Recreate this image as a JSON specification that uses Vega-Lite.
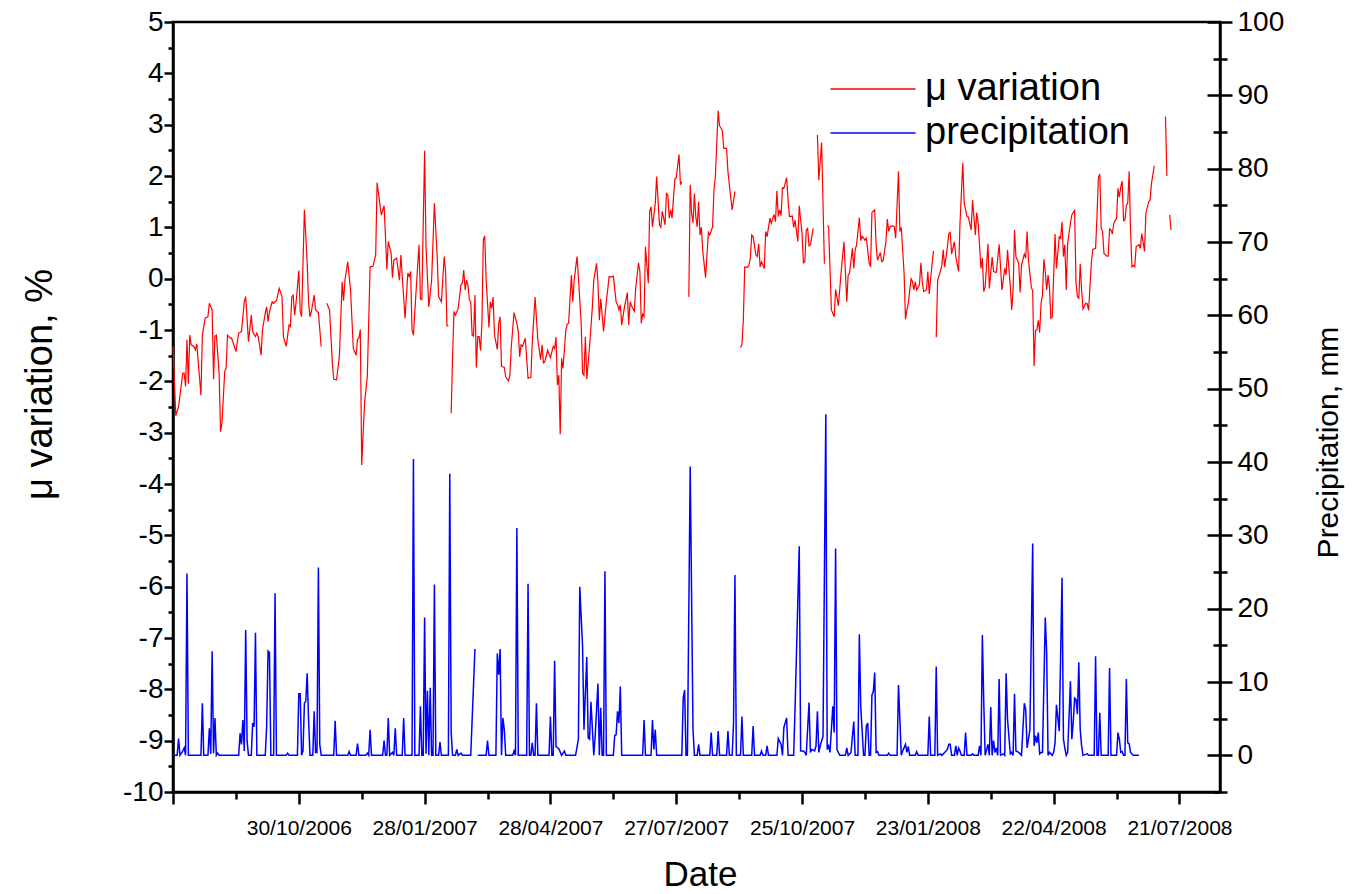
{
"$schema": "https://vega.github.io/schema/vega-lite/v6.json",
"width": 1047, "height": 770,
"autosize": "none",
"padding": {"left": 173, "top": 22, "right": 133, "bottom": 102},
"background": "white",
"config": {"view": {"stroke": "black", "strokeWidth": 2.5}, "font": "Liberation Sans",
 "axis": {"grid": false, "domainColor": "black", "domainWidth": 2.5, "tickColor": "black", "tickWidth": 2.5, "labelColor": "black", "titleColor": "black", "labelFont": "Liberation Sans", "titleFont": "Liberation Sans", "titleFontWeight": "normal"}},
"datasets": {
"mu": [
{"date":"2006-08-01","mu":-1.32},{"date":"2006-08-03","mu":-2.67},{"date":"2006-08-05","mu":-2.49},{"date":"2006-08-08","mu":-1.84},{"date":"2006-08-09","mu":-1.84},{"date":"2006-08-10","mu":-2.10},{"date":"2006-08-11","mu":-1.19},{"date":"2006-08-12","mu":-2.04},{"date":"2006-08-13","mu":-1.10},{"date":"2006-08-14","mu":-1.29},{"date":"2006-08-16","mu":-1.32},{"date":"2006-08-17","mu":-1.39},{"date":"2006-08-18","mu":-1.27},{"date":"2006-08-21","mu":-2.27},{"date":"2006-08-22","mu":-1.10},{"date":"2006-08-24","mu":-0.77},{"date":"2006-08-26","mu":-0.74},{"date":"2006-08-27","mu":-0.48},{"date":"2006-08-29","mu":-0.61},{"date":"2006-08-30","mu":-1.96},{"date":"2006-08-31","mu":-1.12},
{"date":"2006-09-01","mu":-1.10},{"date":"2006-09-03","mu":-1.84},{"date":"2006-09-04","mu":-2.98},{"date":"2006-09-05","mu":-2.82},{"date":"2006-09-07","mu":-1.81},{"date":"2006-09-08","mu":-1.75},{"date":"2006-09-09","mu":-1.10},{"date":"2006-09-11","mu":-1.16},{"date":"2006-09-12","mu":-1.16},{"date":"2006-09-15","mu":-1.42},{"date":"2006-09-17","mu":-1.06},{"date":"2006-09-19","mu":-1.03},{"date":"2006-09-21","mu":-0.45},{"date":"2006-09-22","mu":-0.35},{"date":"2006-09-24","mu":-1.23},{"date":"2006-09-26","mu":-0.71},{"date":"2006-09-27","mu":-1.03},{"date":"2006-09-29","mu":-1.13},{"date":"2006-09-30","mu":-1.06},
{"date":"2006-10-01","mu":-1.13},{"date":"2006-10-03","mu":-1.49},{"date":"2006-10-04","mu":-1.00},{"date":"2006-10-06","mu":-0.67},{"date":"2006-10-07","mu":-0.55},{"date":"2006-10-08","mu":-0.84},{"date":"2006-10-09","mu":-0.64},{"date":"2006-10-11","mu":-0.45},{"date":"2006-10-12","mu":-0.48},{"date":"2006-10-13","mu":-0.45},{"date":"2006-10-14","mu":-0.43},{"date":"2006-10-16","mu":-0.19},{"date":"2006-10-18","mu":-0.35},{"date":"2006-10-19","mu":-1.13},{"date":"2006-10-21","mu":-1.32},{"date":"2006-10-23","mu":-0.90},{"date":"2006-10-24","mu":-0.93},{"date":"2006-10-25","mu":-0.35},{"date":"2006-10-26","mu":-0.32},{"date":"2006-10-27","mu":-0.71},{"date":"2006-10-28","mu":-0.48},{"date":"2006-10-30","mu":0.16},{"date":"2006-10-31","mu":-0.64},
{"date":"2006-11-01","mu":-0.74},{"date":"2006-11-03","mu":1.34},{"date":"2006-11-05","mu":0.30},{"date":"2006-11-06","mu":-0.48},{"date":"2006-11-07","mu":-0.74},{"date":"2006-11-08","mu":-0.64},{"date":"2006-11-10","mu":-0.32},{"date":"2006-11-11","mu":-0.61},{"date":"2006-11-13","mu":-0.66},{"date":"2006-11-15","mu":-1.32},{"date":"2006-11-17","mu":null},{"date":"2006-11-19","mu":-0.48},{"date":"2006-11-21","mu":-0.61},{"date":"2006-11-23","mu":-1.65},{"date":"2006-11-24","mu":-1.96},{"date":"2006-11-26","mu":-1.97},{"date":"2006-11-28","mu":-1.52},{"date":"2006-11-30","mu":-0.06},
{"date":"2006-12-01","mu":-0.43},{"date":"2006-12-02","mu":-0.03},{"date":"2006-12-04","mu":0.33},{"date":"2006-12-06","mu":-0.22},{"date":"2006-12-08","mu":-1.36},{"date":"2006-12-10","mu":-1.49},{"date":"2006-12-11","mu":-1.18},{"date":"2006-12-12","mu":-1.16},{"date":"2006-12-13","mu":-0.99},{"date":"2006-12-14","mu":-3.63},{"date":"2006-12-16","mu":-2.43},{"date":"2006-12-18","mu":-1.91},{"date":"2006-12-20","mu":0.23},{"date":"2006-12-22","mu":0.24},{"date":"2006-12-24","mu":0.46},{"date":"2006-12-25","mu":1.87},{"date":"2006-12-28","mu":1.24},{"date":"2006-12-30","mu":1.42},{"date":"2006-12-31","mu":0.82},
{"date":"2007-01-01","mu":0.18},{"date":"2007-01-02","mu":0.72},{"date":"2007-01-04","mu":0.51},{"date":"2007-01-05","mu":0.02},{"date":"2007-01-06","mu":0.36},{"date":"2007-01-08","mu":0.40},{"date":"2007-01-10","mu":-0.03},{"date":"2007-01-11","mu":0.46},{"date":"2007-01-14","mu":-0.77},{"date":"2007-01-16","mu":0.11},{"date":"2007-01-17","mu":0.04},{"date":"2007-01-18","mu":0.14},{"date":"2007-01-19","mu":-1.00},{"date":"2007-01-20","mu":-1.10},{"date":"2007-01-22","mu":-0.19},{"date":"2007-01-24","mu":0.66},{"date":"2007-01-25","mu":-0.40},{"date":"2007-01-26","mu":-0.41},{"date":"2007-01-28","mu":2.49},{"date":"2007-01-29","mu":0.62},{"date":"2007-01-31","mu":-0.55},
{"date":"2007-02-02","mu":-0.03},{"date":"2007-02-04","mu":1.47},{"date":"2007-02-06","mu":0.43},{"date":"2007-02-07","mu":-0.35},{"date":"2007-02-09","mu":-0.45},{"date":"2007-02-11","mu":0.43},{"date":"2007-02-12","mu":0.14},{"date":"2007-02-13","mu":-0.92},{"date":"2007-02-14","mu":-0.92},{"date":"2007-02-15","mu":null},{"date":"2007-02-16","mu":-2.62},{"date":"2007-02-17","mu":-1.52},{"date":"2007-02-18","mu":-0.64},{"date":"2007-02-19","mu":-0.71},{"date":"2007-02-21","mu":-0.58},{"date":"2007-02-23","mu":-0.12},{"date":"2007-02-24","mu":-0.09},{"date":"2007-02-25","mu":0.17},{"date":"2007-02-26","mu":-0.22},{"date":"2007-02-27","mu":-0.03},{"date":"2007-02-28","mu":-0.12},
{"date":"2007-03-01","mu":-0.41},{"date":"2007-03-02","mu":-0.45},{"date":"2007-03-03","mu":-1.10},{"date":"2007-03-04","mu":-1.12},{"date":"2007-03-05","mu":-0.32},{"date":"2007-03-06","mu":-1.73},{"date":"2007-03-07","mu":-1.13},{"date":"2007-03-08","mu":-1.13},{"date":"2007-03-09","mu":-1.40},{"date":"2007-03-10","mu":-0.87},{"date":"2007-03-11","mu":0.75},{"date":"2007-03-12","mu":0.83},{"date":"2007-03-13","mu":0.00},{"date":"2007-03-15","mu":-0.95},{"date":"2007-03-16","mu":-0.45},{"date":"2007-03-17","mu":-0.58},{"date":"2007-03-18","mu":-0.36},{"date":"2007-03-19","mu":-1.10},{"date":"2007-03-21","mu":-1.38},{"date":"2007-03-22","mu":-0.87},{"date":"2007-03-23","mu":-0.74},{"date":"2007-03-24","mu":-1.71},{"date":"2007-03-26","mu":-1.73},{"date":"2007-03-27","mu":-1.91},{"date":"2007-03-29","mu":-1.99},{"date":"2007-03-30","mu":-1.88},{"date":"2007-03-31","mu":-1.32},
{"date":"2007-04-02","mu":-0.66},{"date":"2007-04-04","mu":-0.87},{"date":"2007-04-05","mu":-1.03},{"date":"2007-04-06","mu":-1.52},{"date":"2007-04-07","mu":-1.29},{"date":"2007-04-08","mu":-1.32},{"date":"2007-04-10","mu":-1.16},{"date":"2007-04-12","mu":-1.94},{"date":"2007-04-14","mu":-1.92},{"date":"2007-04-15","mu":-1.26},{"date":"2007-04-17","mu":-0.36},{"date":"2007-04-19","mu":-1.19},{"date":"2007-04-21","mu":-1.58},{"date":"2007-04-22","mu":-1.29},{"date":"2007-04-23","mu":-1.64},{"date":"2007-04-24","mu":-1.62},{"date":"2007-04-26","mu":-1.39},{"date":"2007-04-28","mu":-1.54},{"date":"2007-04-30","mu":-1.32},
{"date":"2007-05-01","mu":-1.36},{"date":"2007-05-02","mu":-1.14},{"date":"2007-05-03","mu":-2.07},{"date":"2007-05-04","mu":-1.88},{"date":"2007-05-05","mu":-3.03},{"date":"2007-05-06","mu":-1.55},{"date":"2007-05-07","mu":-1.75},{"date":"2007-05-09","mu":-1.01},{"date":"2007-05-10","mu":-0.88},{"date":"2007-05-11","mu":-0.87},{"date":"2007-05-13","mu":0.07},{"date":"2007-05-14","mu":-0.45},{"date":"2007-05-15","mu":-0.03},{"date":"2007-05-17","mu":0.43},{"date":"2007-05-18","mu":0.04},{"date":"2007-05-20","mu":-0.87},{"date":"2007-05-21","mu":-1.84},{"date":"2007-05-22","mu":-1.88},{"date":"2007-05-23","mu":-1.13},{"date":"2007-05-24","mu":-1.96},{"date":"2007-05-26","mu":-1.32},{"date":"2007-05-28","mu":-0.55},{"date":"2007-05-29","mu":-0.03},{"date":"2007-05-31","mu":0.30},
{"date":"2007-06-01","mu":-0.09},{"date":"2007-06-02","mu":-0.81},{"date":"2007-06-03","mu":-0.39},{"date":"2007-06-05","mu":-1.03},{"date":"2007-06-07","mu":-0.45},{"date":"2007-06-09","mu":0.04},{"date":"2007-06-10","mu":0.03},{"date":"2007-06-12","mu":0.05},{"date":"2007-06-14","mu":-0.45},{"date":"2007-06-15","mu":-0.51},{"date":"2007-06-16","mu":-0.61},{"date":"2007-06-17","mu":-0.51},{"date":"2007-06-18","mu":-0.90},{"date":"2007-06-20","mu":-0.55},{"date":"2007-06-22","mu":-0.27},{"date":"2007-06-23","mu":-0.90},{"date":"2007-06-24","mu":-0.45},{"date":"2007-06-25","mu":-0.53},{"date":"2007-06-27","mu":-0.64},{"date":"2007-06-28","mu":-0.19},{"date":"2007-06-30","mu":0.31},
{"date":"2007-07-01","mu":0.14},{"date":"2007-07-02","mu":-0.87},{"date":"2007-07-03","mu":-0.69},{"date":"2007-07-04","mu":-0.74},{"date":"2007-07-05","mu":0.62},{"date":"2007-07-07","mu":-0.09},{"date":"2007-07-08","mu":1.31},{"date":"2007-07-09","mu":1.40},{"date":"2007-07-10","mu":1.01},{"date":"2007-07-12","mu":1.47},{"date":"2007-07-13","mu":1.99},{"date":"2007-07-15","mu":1.05},{"date":"2007-07-16","mu":1.00},{"date":"2007-07-17","mu":1.31},{"date":"2007-07-19","mu":1.05},{"date":"2007-07-20","mu":1.66},{"date":"2007-07-21","mu":1.63},{"date":"2007-07-22","mu":1.18},{"date":"2007-07-23","mu":1.34},{"date":"2007-07-24","mu":1.18},{"date":"2007-07-26","mu":1.94},{"date":"2007-07-27","mu":1.96},{"date":"2007-07-29","mu":2.42},{"date":"2007-07-30","mu":1.83},{"date":"2007-07-31","mu":1.89},
{"date":"2007-08-02","mu":null},{"date":"2007-08-05","mu":-0.35},{"date":"2007-08-06","mu":1.83},{"date":"2007-08-07","mu":1.27},{"date":"2007-08-08","mu":1.09},{"date":"2007-08-09","mu":1.66},{"date":"2007-08-10","mu":1.21},{"date":"2007-08-11","mu":1.01},{"date":"2007-08-12","mu":1.50},{"date":"2007-08-13","mu":0.85},{"date":"2007-08-14","mu":1.00},{"date":"2007-08-15","mu":0.53},{"date":"2007-08-17","mu":0.02},{"date":"2007-08-19","mu":0.90},{"date":"2007-08-20","mu":0.85},{"date":"2007-08-22","mu":1.01},{"date":"2007-08-23","mu":1.73},{"date":"2007-08-24","mu":1.99},{"date":"2007-08-26","mu":3.27},{"date":"2007-08-27","mu":2.98},{"date":"2007-08-29","mu":2.88},{"date":"2007-08-30","mu":2.54},
{"date":"2007-09-01","mu":2.54},{"date":"2007-09-02","mu":2.09},{"date":"2007-09-03","mu":1.83},{"date":"2007-09-05","mu":1.34},{"date":"2007-09-07","mu":1.70},{"date":"2007-09-09","mu":null},{"date":"2007-09-11","mu":-1.34},{"date":"2007-09-12","mu":-1.29},{"date":"2007-09-13","mu":-0.81},{"date":"2007-09-14","mu":0.23},{"date":"2007-09-16","mu":0.22},{"date":"2007-09-17","mu":0.26},{"date":"2007-09-18","mu":0.40},{"date":"2007-09-19","mu":0.85},{"date":"2007-09-20","mu":0.82},{"date":"2007-09-22","mu":0.46},{"date":"2007-09-23","mu":0.43},{"date":"2007-09-24","mu":0.68},{"date":"2007-09-25","mu":0.23},{"date":"2007-09-26","mu":0.33},{"date":"2007-09-28","mu":0.20},{"date":"2007-09-29","mu":0.92},{"date":"2007-09-30","mu":0.82},
{"date":"2007-10-02","mu":1.18},{"date":"2007-10-03","mu":1.08},{"date":"2007-10-05","mu":1.25},{"date":"2007-10-06","mu":1.11},{"date":"2007-10-07","mu":1.71},{"date":"2007-10-08","mu":1.21},{"date":"2007-10-09","mu":1.34},{"date":"2007-10-10","mu":1.23},{"date":"2007-10-11","mu":1.77},{"date":"2007-10-12","mu":1.76},{"date":"2007-10-14","mu":1.97},{"date":"2007-10-15","mu":1.53},{"date":"2007-10-16","mu":1.21},{"date":"2007-10-18","mu":1.22},{"date":"2007-10-19","mu":1.00},{"date":"2007-10-20","mu":1.14},{"date":"2007-10-22","mu":0.72},{"date":"2007-10-23","mu":1.42},{"date":"2007-10-25","mu":0.88},{"date":"2007-10-26","mu":0.31},{"date":"2007-10-27","mu":0.33},{"date":"2007-10-28","mu":0.95},{"date":"2007-10-29","mu":0.98},{"date":"2007-10-30","mu":0.64},{"date":"2007-10-31","mu":0.66},
{"date":"2007-11-02","mu":0.98},{"date":"2007-11-03","mu":null},{"date":"2007-11-05","mu":2.80},{"date":"2007-11-06","mu":1.92},{"date":"2007-11-08","mu":2.65},{"date":"2007-11-10","mu":0.29},{"date":"2007-11-11","mu":null},{"date":"2007-11-12","mu":1.03},{"date":"2007-11-13","mu":1.01},{"date":"2007-11-15","mu":-0.61},{"date":"2007-11-17","mu":-0.74},{"date":"2007-11-18","mu":-0.21},{"date":"2007-11-20","mu":-0.53},{"date":"2007-11-22","mu":0.14},{"date":"2007-11-24","mu":0.72},{"date":"2007-11-26","mu":-0.45},{"date":"2007-11-27","mu":0.07},{"date":"2007-11-28","mu":0.11},{"date":"2007-11-30","mu":0.59},
{"date":"2007-12-01","mu":0.20},{"date":"2007-12-02","mu":0.56},{"date":"2007-12-03","mu":0.66},{"date":"2007-12-05","mu":1.19},{"date":"2007-12-06","mu":0.74},{"date":"2007-12-07","mu":0.83},{"date":"2007-12-09","mu":0.75},{"date":"2007-12-10","mu":0.79},{"date":"2007-12-12","mu":0.31},{"date":"2007-12-13","mu":0.23},{"date":"2007-12-14","mu":1.29},{"date":"2007-12-16","mu":1.34},{"date":"2007-12-17","mu":0.66},{"date":"2007-12-18","mu":0.36},{"date":"2007-12-20","mu":0.51},{"date":"2007-12-21","mu":0.33},{"date":"2007-12-22","mu":0.35},{"date":"2007-12-24","mu":0.72},{"date":"2007-12-25","mu":1.16},{"date":"2007-12-26","mu":0.92},{"date":"2007-12-27","mu":1.01},{"date":"2007-12-29","mu":1.03},{"date":"2007-12-30","mu":1.01},{"date":"2007-12-31","mu":0.79},
{"date":"2008-01-01","mu":1.44},{"date":"2008-01-02","mu":2.09},{"date":"2008-01-03","mu":0.92},{"date":"2008-01-04","mu":1.00},{"date":"2008-01-06","mu":0.11},{"date":"2008-01-07","mu":-0.79},{"date":"2008-01-08","mu":-0.61},{"date":"2008-01-09","mu":-0.48},{"date":"2008-01-11","mu":0.00},{"date":"2008-01-12","mu":-0.06},{"date":"2008-01-13","mu":-0.22},{"date":"2008-01-14","mu":-0.06},{"date":"2008-01-15","mu":-0.22},{"date":"2008-01-17","mu":-0.12},{"date":"2008-01-18","mu":0.31},{"date":"2008-01-19","mu":-0.06},{"date":"2008-01-20","mu":-0.25},{"date":"2008-01-22","mu":-0.22},{"date":"2008-01-23","mu":0.14},{"date":"2008-01-24","mu":-0.30},{"date":"2008-01-25","mu":0.00},{"date":"2008-01-27","mu":0.54},{"date":"2008-01-28","mu":null},{"date":"2008-01-29","mu":-1.14},{"date":"2008-01-30","mu":-0.03},
{"date":"2008-02-01","mu":0.15},{"date":"2008-02-02","mu":0.26},{"date":"2008-02-03","mu":0.56},{"date":"2008-02-04","mu":0.23},{"date":"2008-02-06","mu":0.62},{"date":"2008-02-07","mu":0.88},{"date":"2008-02-08","mu":0.90},{"date":"2008-02-09","mu":0.48},{"date":"2008-02-11","mu":0.72},{"date":"2008-02-12","mu":0.43},{"date":"2008-02-14","mu":0.14},{"date":"2008-02-15","mu":1.08},{"date":"2008-02-17","mu":2.26},{"date":"2008-02-18","mu":1.47},{"date":"2008-02-20","mu":1.21},{"date":"2008-02-21","mu":1.20},{"date":"2008-02-23","mu":0.95},{"date":"2008-02-24","mu":1.53},{"date":"2008-02-26","mu":0.85},{"date":"2008-02-27","mu":1.29},{"date":"2008-02-28","mu":1.08},
{"date":"2008-03-01","mu":0.20},{"date":"2008-03-02","mu":0.40},{"date":"2008-03-03","mu":-0.25},{"date":"2008-03-04","mu":-0.16},{"date":"2008-03-06","mu":0.68},{"date":"2008-03-07","mu":-0.19},{"date":"2008-03-09","mu":0.42},{"date":"2008-03-10","mu":0.14},{"date":"2008-03-12","mu":0.12},{"date":"2008-03-14","mu":0.67},{"date":"2008-03-16","mu":-0.22},{"date":"2008-03-18","mu":0.20},{"date":"2008-03-19","mu":0.07},{"date":"2008-03-20","mu":0.56},{"date":"2008-03-22","mu":-0.16},{"date":"2008-03-23","mu":-0.61},{"date":"2008-03-24","mu":-0.22},{"date":"2008-03-25","mu":0.95},{"date":"2008-03-26","mu":0.43},{"date":"2008-03-28","mu":0.30},{"date":"2008-03-29","mu":-0.27},{"date":"2008-03-30","mu":0.26},
{"date":"2008-04-01","mu":0.48},{"date":"2008-04-02","mu":0.40},{"date":"2008-04-03","mu":0.92},{"date":"2008-04-04","mu":0.36},{"date":"2008-04-06","mu":-0.16},{"date":"2008-04-07","mu":-0.24},{"date":"2008-04-08","mu":-1.70},{"date":"2008-04-09","mu":-1.01},{"date":"2008-04-10","mu":-1.00},{"date":"2008-04-11","mu":-0.81},{"date":"2008-04-12","mu":-1.05},{"date":"2008-04-13","mu":-0.48},{"date":"2008-04-14","mu":-0.32},{"date":"2008-04-15","mu":0.38},{"date":"2008-04-16","mu":0.14},{"date":"2008-04-17","mu":-0.22},{"date":"2008-04-18","mu":0.07},{"date":"2008-04-19","mu":-0.16},{"date":"2008-04-20","mu":-0.77},{"date":"2008-04-21","mu":-0.74},{"date":"2008-04-23","mu":0.87},{"date":"2008-04-24","mu":0.20},{"date":"2008-04-26","mu":0.82},{"date":"2008-04-27","mu":0.79},{"date":"2008-04-28","mu":1.11},{"date":"2008-04-29","mu":0.43},{"date":"2008-04-30","mu":0.66},
{"date":"2008-05-01","mu":-0.22},{"date":"2008-05-02","mu":0.69},{"date":"2008-05-04","mu":1.08},{"date":"2008-05-05","mu":1.24},{"date":"2008-05-07","mu":1.33},{"date":"2008-05-08","mu":-0.09},{"date":"2008-05-09","mu":-0.35},{"date":"2008-05-10","mu":-0.38},{"date":"2008-05-11","mu":0.29},{"date":"2008-05-12","mu":-0.22},{"date":"2008-05-13","mu":-0.59},{"date":"2008-05-15","mu":-0.48},{"date":"2008-05-16","mu":-0.49},{"date":"2008-05-17","mu":-0.62},{"date":"2008-05-19","mu":0.33},{"date":"2008-05-20","mu":0.57},{"date":"2008-05-22","mu":0.59},{"date":"2008-05-23","mu":1.21},{"date":"2008-05-24","mu":1.97},{"date":"2008-05-25","mu":2.04},{"date":"2008-05-26","mu":0.98},{"date":"2008-05-27","mu":0.92},{"date":"2008-05-28","mu":0.49},{"date":"2008-05-30","mu":0.44},{"date":"2008-05-31","mu":0.44},
{"date":"2008-06-01","mu":0.97},{"date":"2008-06-02","mu":0.95},{"date":"2008-06-03","mu":0.87},{"date":"2008-06-04","mu":1.08},{"date":"2008-06-06","mu":1.18},{"date":"2008-06-07","mu":1.76},{"date":"2008-06-08","mu":1.59},{"date":"2008-06-09","mu":1.79},{"date":"2008-06-10","mu":1.90},{"date":"2008-06-11","mu":1.13},{"date":"2008-06-12","mu":1.14},{"date":"2008-06-13","mu":1.43},{"date":"2008-06-14","mu":1.47},{"date":"2008-06-15","mu":2.09},{"date":"2008-06-16","mu":0.95},{"date":"2008-06-17","mu":0.23},{"date":"2008-06-18","mu":0.26},{"date":"2008-06-19","mu":0.23},{"date":"2008-06-20","mu":0.62},{"date":"2008-06-22","mu":0.66},{"date":"2008-06-23","mu":0.59},{"date":"2008-06-24","mu":0.88},{"date":"2008-06-26","mu":0.53},{"date":"2008-06-27","mu":1.28},{"date":"2008-06-29","mu":1.50},{"date":"2008-06-30","mu":1.53},
{"date":"2008-07-01","mu":1.86},{"date":"2008-07-03","mu":2.20},{"date":"2008-07-04","mu":null},{"date":"2008-07-11","mu":3.16},{"date":"2008-07-12","mu":2.00},{"date":"2008-07-13","mu":null},{"date":"2008-07-14","mu":1.24},{"date":"2008-07-15","mu":0.95}
],
"precip": [
{"date":"2006-08-01","p":0},{"date":"2006-08-04","p":0},{"date":"2006-08-05","p":2.3},{"date":"2006-08-06","p":0},{"date":"2006-08-08","p":0.6},{"date":"2006-08-09","p":1.0},{"date":"2006-08-10","p":0},{"date":"2006-08-11","p":24.8},{"date":"2006-08-12","p":0},{"date":"2006-08-21","p":0},{"date":"2006-08-22","p":7.1},{"date":"2006-08-23","p":0},{"date":"2006-08-26","p":0},{"date":"2006-08-27","p":3.7},{"date":"2006-08-28","p":0.2},{"date":"2006-08-29","p":14.2},{"date":"2006-08-30","p":0.3},{"date":"2006-08-31","p":5.1},
{"date":"2006-09-01","p":0},{"date":"2006-09-02","p":0.3},{"date":"2006-09-03","p":0},{"date":"2006-09-17","p":0},{"date":"2006-09-18","p":3.0},{"date":"2006-09-19","p":1.5},{"date":"2006-09-20","p":4.8},{"date":"2006-09-21","p":0.6},{"date":"2006-09-22","p":17.1},{"date":"2006-09-23","p":2.0},{"date":"2006-09-24","p":0},{"date":"2006-09-26","p":0},{"date":"2006-09-27","p":4.4},{"date":"2006-09-28","p":3.9},{"date":"2006-09-29","p":16.7},{"date":"2006-09-30","p":0},
{"date":"2006-10-06","p":0},{"date":"2006-10-07","p":4.0},{"date":"2006-10-08","p":14.2},{"date":"2006-10-09","p":14.0},{"date":"2006-10-10","p":0},{"date":"2006-10-12","p":0},{"date":"2006-10-13","p":22.1},{"date":"2006-10-14","p":0},{"date":"2006-10-21","p":0},{"date":"2006-10-22","p":0.3},{"date":"2006-10-23","p":0},{"date":"2006-10-29","p":0},{"date":"2006-10-30","p":8.4},{"date":"2006-10-31","p":8.4},
{"date":"2006-11-01","p":0},{"date":"2006-11-02","p":0.6},{"date":"2006-11-03","p":7.1},{"date":"2006-11-04","p":7.4},{"date":"2006-11-05","p":11.2},{"date":"2006-11-06","p":4.8},{"date":"2006-11-07","p":0},{"date":"2006-11-09","p":0},{"date":"2006-11-10","p":6.0},{"date":"2006-11-11","p":0.4},{"date":"2006-11-12","p":0.4},{"date":"2006-11-13","p":25.6},{"date":"2006-11-14","p":1.5},{"date":"2006-11-15","p":0},{"date":"2006-11-24","p":0},{"date":"2006-11-25","p":4.7},{"date":"2006-11-26","p":0},
{"date":"2006-12-04","p":0},{"date":"2006-12-05","p":0.5},{"date":"2006-12-06","p":0},{"date":"2006-12-10","p":0},{"date":"2006-12-11","p":1.6},{"date":"2006-12-12","p":0},{"date":"2006-12-17","p":0},{"date":"2006-12-18","p":0.3},{"date":"2006-12-19","p":0},{"date":"2006-12-20","p":3.5},{"date":"2006-12-21","p":0},{"date":"2006-12-29","p":0},{"date":"2006-12-30","p":2.0},{"date":"2006-12-31","p":0},
{"date":"2007-01-01","p":0},{"date":"2007-01-02","p":5.1},{"date":"2007-01-03","p":0},{"date":"2007-01-05","p":0.4},{"date":"2007-01-06","p":0},{"date":"2007-01-07","p":3.7},{"date":"2007-01-08","p":0},{"date":"2007-01-12","p":0},{"date":"2007-01-13","p":5.1},{"date":"2007-01-14","p":0},{"date":"2007-01-19","p":0},{"date":"2007-01-20","p":40.4},{"date":"2007-01-21","p":0},{"date":"2007-01-24","p":0},{"date":"2007-01-25","p":6.7},{"date":"2007-01-26","p":0},{"date":"2007-01-27","p":0},{"date":"2007-01-28","p":18.8},{"date":"2007-01-29","p":0.2},{"date":"2007-01-30","p":8.8},{"date":"2007-01-31","p":0},
{"date":"2007-02-01","p":9.2},{"date":"2007-02-02","p":0},{"date":"2007-02-03","p":0},{"date":"2007-02-04","p":23.3},{"date":"2007-02-05","p":0},{"date":"2007-02-07","p":0},{"date":"2007-02-08","p":1.8},{"date":"2007-02-09","p":0},{"date":"2007-02-14","p":0},{"date":"2007-02-15","p":38.4},{"date":"2007-02-16","p":3.2},{"date":"2007-02-17","p":0},{"date":"2007-02-19","p":0},{"date":"2007-02-20","p":0.8},{"date":"2007-02-21","p":0},{"date":"2007-02-23","p":0.3},{"date":"2007-02-24","p":0},
{"date":"2007-03-02","p":0},{"date":"2007-03-05","p":14.5},{"date":"2007-03-06","p":null},{"date":"2007-03-07","p":0},{"date":"2007-03-13","p":0},{"date":"2007-03-14","p":2.0},{"date":"2007-03-15","p":0},{"date":"2007-03-20","p":0},{"date":"2007-03-21","p":13.9},{"date":"2007-03-22","p":11.0},{"date":"2007-03-23","p":14.5},{"date":"2007-03-24","p":0},{"date":"2007-03-25","p":5.1},{"date":"2007-03-26","p":3.5},{"date":"2007-03-27","p":0},
{"date":"2007-04-01","p":0},{"date":"2007-04-02","p":0.6},{"date":"2007-04-03","p":0},{"date":"2007-04-04","p":31.0},{"date":"2007-04-05","p":0},{"date":"2007-04-11","p":0},{"date":"2007-04-12","p":23.4},{"date":"2007-04-13","p":0},{"date":"2007-04-14","p":0},{"date":"2007-04-15","p":1.7},{"date":"2007-04-16","p":0},{"date":"2007-04-17","p":0},{"date":"2007-04-18","p":7.1},{"date":"2007-04-19","p":0},{"date":"2007-04-27","p":0},{"date":"2007-04-28","p":5.3},{"date":"2007-04-29","p":0},{"date":"2007-04-30","p":0},
{"date":"2007-05-01","p":12.9},{"date":"2007-05-02","p":1.2},{"date":"2007-05-04","p":0.9},{"date":"2007-05-06","p":0},{"date":"2007-05-08","p":0.6},{"date":"2007-05-09","p":0},{"date":"2007-05-16","p":0},{"date":"2007-05-18","p":2.2},{"date":"2007-05-19","p":23.0},{"date":"2007-05-21","p":14.8},{"date":"2007-05-22","p":3.5},{"date":"2007-05-24","p":13.4},{"date":"2007-05-25","p":2.4},{"date":"2007-05-26","p":2.2},{"date":"2007-05-27","p":7.3},{"date":"2007-05-29","p":0},{"date":"2007-05-30","p":2.6},
{"date":"2007-06-01","p":9.8},{"date":"2007-06-02","p":0},{"date":"2007-06-03","p":6.5},{"date":"2007-06-04","p":0},{"date":"2007-06-05","p":0},{"date":"2007-06-06","p":25.1},{"date":"2007-06-07","p":0},{"date":"2007-06-12","p":0},{"date":"2007-06-13","p":2.7},{"date":"2007-06-14","p":2.8},{"date":"2007-06-15","p":6.0},{"date":"2007-06-16","p":4.4},{"date":"2007-06-17","p":9.4},{"date":"2007-06-18","p":0},
{"date":"2007-07-03","p":0},{"date":"2007-07-04","p":4.8},{"date":"2007-07-05","p":0},{"date":"2007-07-09","p":0},{"date":"2007-07-10","p":4.8},{"date":"2007-07-11","p":0.8},{"date":"2007-07-12","p":3.5},{"date":"2007-07-13","p":0},{"date":"2007-07-31","p":0},
{"date":"2007-08-01","p":7.8},{"date":"2007-08-02","p":8.9},{"date":"2007-08-03","p":0},{"date":"2007-08-04","p":0},{"date":"2007-08-06","p":39.4},{"date":"2007-08-08","p":3.5},{"date":"2007-08-09","p":0},{"date":"2007-08-11","p":0},{"date":"2007-08-12","p":1.5},{"date":"2007-08-13","p":0},{"date":"2007-08-20","p":0},{"date":"2007-08-21","p":3.1},{"date":"2007-08-22","p":0},{"date":"2007-08-25","p":0},{"date":"2007-08-26","p":3.3},{"date":"2007-08-27","p":0},
{"date":"2007-09-01","p":0},{"date":"2007-09-02","p":3.3},{"date":"2007-09-03","p":0},{"date":"2007-09-05","p":0},{"date":"2007-09-06","p":4.4},{"date":"2007-09-07","p":24.6},{"date":"2007-09-08","p":0},{"date":"2007-09-11","p":0},{"date":"2007-09-12","p":5.3},{"date":"2007-09-13","p":0},{"date":"2007-09-19","p":0},{"date":"2007-09-20","p":4.0},{"date":"2007-09-21","p":0},{"date":"2007-09-25","p":0},{"date":"2007-09-26","p":0.6},{"date":"2007-09-27","p":0},{"date":"2007-09-29","p":0},{"date":"2007-09-30","p":1.3},
{"date":"2007-10-01","p":0},{"date":"2007-10-07","p":0},{"date":"2007-10-08","p":2.3},{"date":"2007-10-10","p":1.5},{"date":"2007-10-11","p":0},{"date":"2007-10-12","p":3.8},{"date":"2007-10-14","p":5.1},{"date":"2007-10-15","p":0},{"date":"2007-10-19","p":0},{"date":"2007-10-20","p":6.3},{"date":"2007-10-23","p":28.5},{"date":"2007-10-24","p":0.6},{"date":"2007-10-26","p":0.6},{"date":"2007-10-27","p":0.4},{"date":"2007-10-28","p":0},{"date":"2007-10-30","p":7.2},{"date":"2007-10-31","p":0.4},
{"date":"2007-11-01","p":0.8},{"date":"2007-11-02","p":0.7},{"date":"2007-11-03","p":0.6},{"date":"2007-11-04","p":1.3},{"date":"2007-11-05","p":6.0},{"date":"2007-11-06","p":0.4},{"date":"2007-11-07","p":1.3},{"date":"2007-11-09","p":2.6},{"date":"2007-11-11","p":46.5},{"date":"2007-11-12","p":0.8},{"date":"2007-11-13","p":1.3},{"date":"2007-11-14","p":0.4},{"date":"2007-11-16","p":6.7},{"date":"2007-11-17","p":3.1},{"date":"2007-11-18","p":28.2},{"date":"2007-11-19","p":0.8},{"date":"2007-11-21","p":0},{"date":"2007-11-25","p":0},{"date":"2007-11-26","p":1.0},{"date":"2007-11-27","p":0},{"date":"2007-11-29","p":0.4},
{"date":"2007-12-01","p":4.6},{"date":"2007-12-02","p":0},{"date":"2007-12-04","p":0},{"date":"2007-12-05","p":16.5},{"date":"2007-12-06","p":6.7},{"date":"2007-12-08","p":0},{"date":"2007-12-09","p":0},{"date":"2007-12-10","p":4.0},{"date":"2007-12-11","p":4.4},{"date":"2007-12-12","p":0},{"date":"2007-12-13","p":0},{"date":"2007-12-14","p":8.2},{"date":"2007-12-15","p":8.7},{"date":"2007-12-16","p":11.3},{"date":"2007-12-17","p":0.4},{"date":"2007-12-18","p":0.5},{"date":"2007-12-19","p":0},{"date":"2007-12-25","p":0},{"date":"2007-12-26","p":0.3},{"date":"2007-12-27","p":0},
{"date":"2008-01-01","p":0},{"date":"2008-01-02","p":9.6},{"date":"2008-01-04","p":0},{"date":"2008-01-05","p":0.6},{"date":"2008-01-07","p":1.5},{"date":"2008-01-08","p":0.4},{"date":"2008-01-09","p":1.2},{"date":"2008-01-10","p":0},{"date":"2008-01-14","p":0},{"date":"2008-01-15","p":0.5},{"date":"2008-01-16","p":0},{"date":"2008-01-23","p":0},{"date":"2008-01-24","p":5.3},{"date":"2008-01-25","p":0},{"date":"2008-01-28","p":0},{"date":"2008-01-29","p":12.1},{"date":"2008-01-30","p":0},
{"date":"2008-02-01","p":0.2},{"date":"2008-02-02","p":0},{"date":"2008-02-04","p":0.4},{"date":"2008-02-06","p":0.8},{"date":"2008-02-07","p":1.5},{"date":"2008-02-08","p":1.5},{"date":"2008-02-09","p":0},{"date":"2008-02-11","p":0},{"date":"2008-02-12","p":1.3},{"date":"2008-02-13","p":0},{"date":"2008-02-14","p":1.0},{"date":"2008-02-15","p":0.6},{"date":"2008-02-16","p":0},{"date":"2008-02-18","p":0},{"date":"2008-02-19","p":3.1},{"date":"2008-02-20","p":0},{"date":"2008-02-23","p":0},{"date":"2008-02-24","p":0.2},{"date":"2008-02-25","p":0},{"date":"2008-02-28","p":0},{"date":"2008-02-29","p":1.3},
{"date":"2008-03-01","p":0},{"date":"2008-03-02","p":16.4},{"date":"2008-03-03","p":7.2},{"date":"2008-03-04","p":0},{"date":"2008-03-06","p":1.5},{"date":"2008-03-07","p":0},{"date":"2008-03-08","p":6.6},{"date":"2008-03-09","p":0},{"date":"2008-03-10","p":2.0},{"date":"2008-03-11","p":0.4},{"date":"2008-03-12","p":1.0},{"date":"2008-03-13","p":0},{"date":"2008-03-14","p":10.4},{"date":"2008-03-15","p":0},{"date":"2008-03-17","p":0.2},{"date":"2008-03-18","p":0},{"date":"2008-03-19","p":11.2},{"date":"2008-03-20","p":4.9},{"date":"2008-03-22","p":0.2},{"date":"2008-03-23","p":0.4},{"date":"2008-03-24","p":0},{"date":"2008-03-25","p":8.4},{"date":"2008-03-26","p":0.6},{"date":"2008-03-28","p":0.4},{"date":"2008-03-29","p":0.2},{"date":"2008-03-30","p":0},
{"date":"2008-04-01","p":7.1},{"date":"2008-04-02","p":6.3},{"date":"2008-04-03","p":1.0},{"date":"2008-04-04","p":2.2},{"date":"2008-04-05","p":3.5},{"date":"2008-04-07","p":28.9},{"date":"2008-04-08","p":1.3},{"date":"2008-04-09","p":2.7},{"date":"2008-04-10","p":1.7},{"date":"2008-04-11","p":3.1},{"date":"2008-04-12","p":0.2},{"date":"2008-04-13","p":0.4},{"date":"2008-04-14","p":0.4},{"date":"2008-04-16","p":18.8},{"date":"2008-04-17","p":14.0},{"date":"2008-04-18","p":0},{"date":"2008-04-19","p":0.4},{"date":"2008-04-21","p":0},{"date":"2008-04-22","p":0.4},{"date":"2008-04-23","p":1.7},{"date":"2008-04-24","p":6.9},{"date":"2008-04-26","p":3.3},{"date":"2008-04-28","p":24.2},{"date":"2008-04-29","p":2.2},{"date":"2008-04-30","p":1.0},
{"date":"2008-05-01","p":0},{"date":"2008-05-02","p":0.4},{"date":"2008-05-04","p":10.1},{"date":"2008-05-05","p":2.2},{"date":"2008-05-06","p":4.5},{"date":"2008-05-07","p":7.8},{"date":"2008-05-08","p":7.6},{"date":"2008-05-09","p":5.6},{"date":"2008-05-10","p":12.7},{"date":"2008-05-11","p":3.5},{"date":"2008-05-12","p":1.3},{"date":"2008-05-13","p":0},{"date":"2008-05-16","p":0.2},{"date":"2008-05-17","p":0},{"date":"2008-05-21","p":0},{"date":"2008-05-22","p":13.5},{"date":"2008-05-23","p":0},{"date":"2008-05-24","p":0},{"date":"2008-05-25","p":5.8},{"date":"2008-05-26","p":0},{"date":"2008-05-31","p":0},
{"date":"2008-06-01","p":11.9},{"date":"2008-06-02","p":0},{"date":"2008-06-06","p":0},{"date":"2008-06-07","p":3.1},{"date":"2008-06-08","p":2.2},{"date":"2008-06-09","p":0.4},{"date":"2008-06-10","p":0.5},{"date":"2008-06-11","p":0},{"date":"2008-06-12","p":0},{"date":"2008-06-13","p":10.4},{"date":"2008-06-14","p":1.7},{"date":"2008-06-15","p":1.6},{"date":"2008-06-16","p":0.4},{"date":"2008-06-18","p":0},{"date":"2008-06-22","p":0}
]
},
"layer": [
 {"data": {"name": "mu"},
  "mark": {"type": "line", "strokeWidth": 1.2, "invalid": "break-paths-show-domains"},
  "encoding": {
   "x": {"field": "date", "type": "temporal",
     "scale": {"type": "utc", "domain": [{"year": 2006, "month": 8, "date": 1, "utc": true}, {"year": 2008, "month": 8, "date": 19, "utc": true}]},
     "axis": {"title": "Date", "titleFontSize": 35, "titleX": 527, "titleY": 82, "titleBaseline": "middle",
       "values": [{"year":2006,"month":8,"date":1,"utc":true},{"year":2006,"month":9,"date":15,"utc":true},{"year":2006,"month":10,"date":30,"utc":true},{"year":2006,"month":12,"date":14,"utc":true},{"year":2007,"month":1,"date":28,"utc":true},{"year":2007,"month":3,"date":14,"utc":true},{"year":2007,"month":4,"date":28,"utc":true},{"year":2007,"month":6,"date":12,"utc":true},{"year":2007,"month":7,"date":27,"utc":true},{"year":2007,"month":9,"date":10,"utc":true},{"year":2007,"month":10,"date":25,"utc":true},{"year":2007,"month":12,"date":9,"utc":true},{"year":2008,"month":1,"date":23,"utc":true},{"year":2008,"month":3,"date":8,"utc":true},{"year":2008,"month":4,"date":22,"utc":true},{"year":2008,"month":6,"date":6,"utc":true},{"year":2008,"month":7,"date":21,"utc":true}],
       "labelExpr": "indexof(['30/10/2006','28/01/2007','28/04/2007','27/07/2007','25/10/2007','23/01/2008','22/04/2008','21/07/2008'], utcFormat(datum.value, '%d/%m/%Y')) >= 0 ? utcFormat(datum.value, '%d/%m/%Y') : ''",
       "labelFontSize": 21, "labelPadding": 13, "labelFlush": false, "labelOverlap": false,
       "tickSize": {"condition": {"test": "indexof(['30/10/2006','28/01/2007','28/04/2007','27/07/2007','25/10/2007','23/01/2008','22/04/2008','21/07/2008','01/08/2006'], utcFormat(datum.value, '%d/%m/%Y')) >= 0", "value": 12}, "value": 7}}},
   "y": {"field": "mu", "type": "quantitative",
     "scale": {"domain": [-10, 5], "nice": false, "zero": false},
     "axis": {"title": "μ variation, %", "titleFontSize": 38, "titleAngle": -90, "titleX": -133, "titleY": 362, "titleAlign": "center", "titleBaseline": "middle",
       "values": [-10,-9.5,-9,-8.5,-8,-7.5,-7,-6.5,-6,-5.5,-5,-4.5,-4,-3.5,-3,-2.5,-2,-1.5,-1,-0.5,0,0.5,1,1.5,2,2.5,3,3.5,4,4.5,5],
       "labelExpr": "datum.value % 1 == 0 ? '' + datum.value : ''",
       "labelFontSize": 28, "labelPadding": 1,
       "tickSize": {"condition": {"test": "datum.value % 1 == 0", "value": 9}, "value": 5}}},
   "color": {"datum": "μ variation", "type": "nominal",
     "scale": {"domain": ["μ variation", "precipitation"], "range": ["#ff0000", "#0000ff"]},
     "legend": {"title": null, "orient": "none", "legendX": 681, "legendY": 48, "symbolType": "M-4,0H4", "symbolSize": 452, "symbolStrokeWidth": 1.5, "labelFontSize": 38, "labelFont": "Liberation Sans", "labelColor": "black", "labelOffset": 33, "labelLimit": 0, "rowPadding": 6}}
  }},
 {"data": {"name": "precip"},
  "mark": {"type": "line", "strokeWidth": 1.5, "invalid": "break-paths-show-domains"},
  "encoding": {
   "x": {"field": "date", "type": "temporal"},
   "y": {"field": "p", "type": "quantitative",
     "scale": {"domain": [-5, 100], "nice": false, "zero": false},
     "axis": {"orient": "right", "title": "Precipitation, mm", "titleFontSize": 30, "titleAngle": -90, "titleX": 108, "titleY": 420, "titleAlign": "center", "titleBaseline": "middle",
       "values": [-5,0,5,10,15,20,25,30,35,40,45,50,55,60,65,70,75,80,85,90,95,100],
       "labelExpr": "datum.value % 10 == 0 && datum.value >= 0 ? '' + datum.value : ''",
       "labelFontSize": 28, "labelPadding": 5,
       "tickSize": {"condition": {"test": "datum.value % 10 == 0", "value": 12}, "value": 7}}},
   "color": {"datum": "precipitation", "type": "nominal"}
  }},
 {"data": {"name": "precip"},
  "mark": {"type": "line", "strokeOpacity": 0, "invalid": "break-paths-show-domains"},
  "encoding": {
   "x": {"field": "date", "type": "temporal"},
   "y": {"field": "p", "type": "quantitative",
     "scale": {"domain": [-5, 100], "nice": false, "zero": false},
     "axis": {"orient": "right", "offset": 0, "title": null, "labels": false, "domain": false,
       "values": [-5,0,5,10,15,20,25,30,35,40,45,50,55,60,65,70,75,80,85,90,95,100],
       "tickSize": {"condition": {"test": "datum.value % 10 == 0", "value": -13}, "value": -7}}}
  }}
],
"resolve": {"scale": {"y": "independent"}}
}
